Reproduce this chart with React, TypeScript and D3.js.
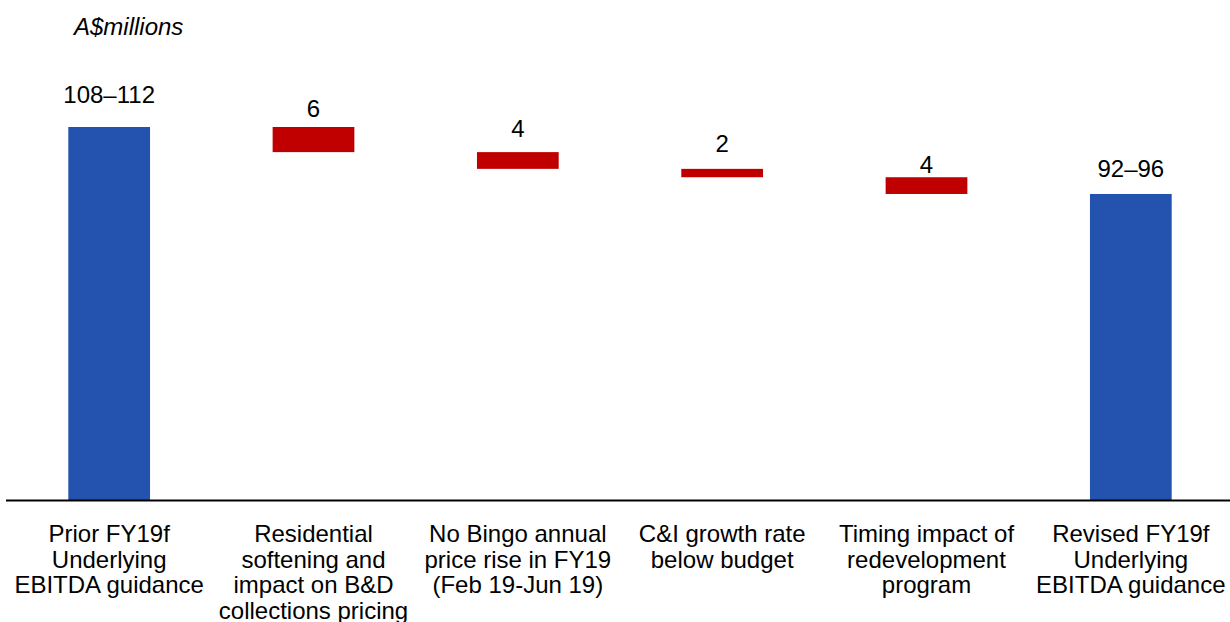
import React, { useRef, useEffect } from "react";
import * as d3 from "d3";

// categories along the x axis (multi-line labels)
const categories = [
  ["Prior FY19f", "Underlying", "EBITDA guidance"],
  ["Residential", "softening and", "impact on B&D", "collections pricing"],
  ["No Bingo annual", "price rise in FY19", "(Feb 19-Jun 19)"],
  ["C&I growth rate", "below budget"],
  ["Timing impact of", "redevelopment", "program"],
  ["Revised FY19f", "Underlying", "EBITDA guidance"],
];

// guidance midpoints and the step changes between them (A$m)
const startValue = 110;
const deltas = [-6, -4, -2, -4];
const endValue = 94;

const valueLabels = ["108–112", "6", "4", "2", "4", "92–96"];
const unitLabel = "A$millions";

const WIDTH = 1230;
const HEIGHT = 622;
const FONT = "'Liberation Sans', Arial, sans-serif";
const FONT_SIZE = 24;

// how far each value label sits above its bar
const labelGap = [24, 10, 15, 17, 4, 17];

const App = () => {
  const ref: any = useRef();

  useEffect(() => {
    const svg = d3.select(ref.current);
    svg.selectAll("*").remove();

    // build the waterfall steps
    let running = startValue;
    const steps: any[] = [{ y0: 0, y1: startValue, total: true }];
    deltas.forEach((d) => {
      const next = running + d;
      steps.push({ y0: next, y1: running, total: false });
      running = next;
    });
    steps.push({ y0: 0, y1: endValue, total: true });

    const x = d3
      .scaleBand()
      .domain(d3.range(categories.length).map(String))
      .range([7, 1233])
      .paddingInner(0.6)
      .paddingOuter(0.3);

    // value axis is truncated: bars are drawn from ~21 up
    const y = d3.scaleLinear().domain([20.9, 110]).range([500, 127]);

    svg
      .selectAll(".bar")
      .data(steps)
      .enter()
      .append("rect")
      .attr("class", "bar")
      .attr("x", (d: any, i: number) => x(String(i)) as number)
      .attr("width", x.bandwidth())
      .attr("y", (d: any) => y(d.y1))
      .attr("height", (d: any) => (d.total ? 500 - y(d.y1) : y(d.y0) - y(d.y1)))
      .attr("fill", (d: any) => (d.total ? "#2453AF" : "#C00000"));

    // baseline
    svg
      .append("line")
      .attr("x1", 6)
      .attr("x2", WIDTH)
      .attr("y1", 500.5)
      .attr("y2", 500.5)
      .attr("stroke", "#000")
      .attr("stroke-width", 2);

    // value labels
    svg
      .selectAll(".val")
      .data(steps)
      .enter()
      .append("text")
      .attr("class", "val")
      .attr("x", (d: any, i: number) => (x(String(i)) as number) + x.bandwidth() / 2)
      .attr("y", (d: any, i: number) => y(d.y1) - labelGap[i])
      .attr("text-anchor", "middle")
      .attr("font-family", FONT)
      .attr("font-size", FONT_SIZE)
      .attr("fill", "#000")
      .text((d: any, i: number) => valueLabels[i]);

    // category labels
    const cat = svg
      .selectAll(".cat")
      .data(categories)
      .enter()
      .append("text")
      .attr("class", "cat")
      .attr("text-anchor", "middle")
      .attr("font-family", FONT)
      .attr("font-size", FONT_SIZE)
      .attr("fill", "#000");

    cat
      .selectAll("tspan")
      .data((d: any, i: number) => d.map((line: string) => ({ line, i })))
      .enter()
      .append("tspan")
      .attr("x", (d: any) => (x(String(d.i)) as number) + x.bandwidth() / 2)
      .attr("y", (d: any, j: number) => 542 + j * 25.6)
      .text((d: any) => d.line);

    svg
      .append("text")
      .attr("x", 74)
      .attr("y", 35)
      .attr("font-family", FONT)
      .attr("font-size", FONT_SIZE)
      .attr("font-style", "italic")
      .attr("fill", "#000")
      .text(unitLabel);
  }, []);

  return (
    <svg
      ref={ref}
      width={WIDTH}
      height={HEIGHT}
      style={{ position: "absolute", left: 0, top: 0, background: "#fff" }}
    ></svg>
  );
};

export default App;
